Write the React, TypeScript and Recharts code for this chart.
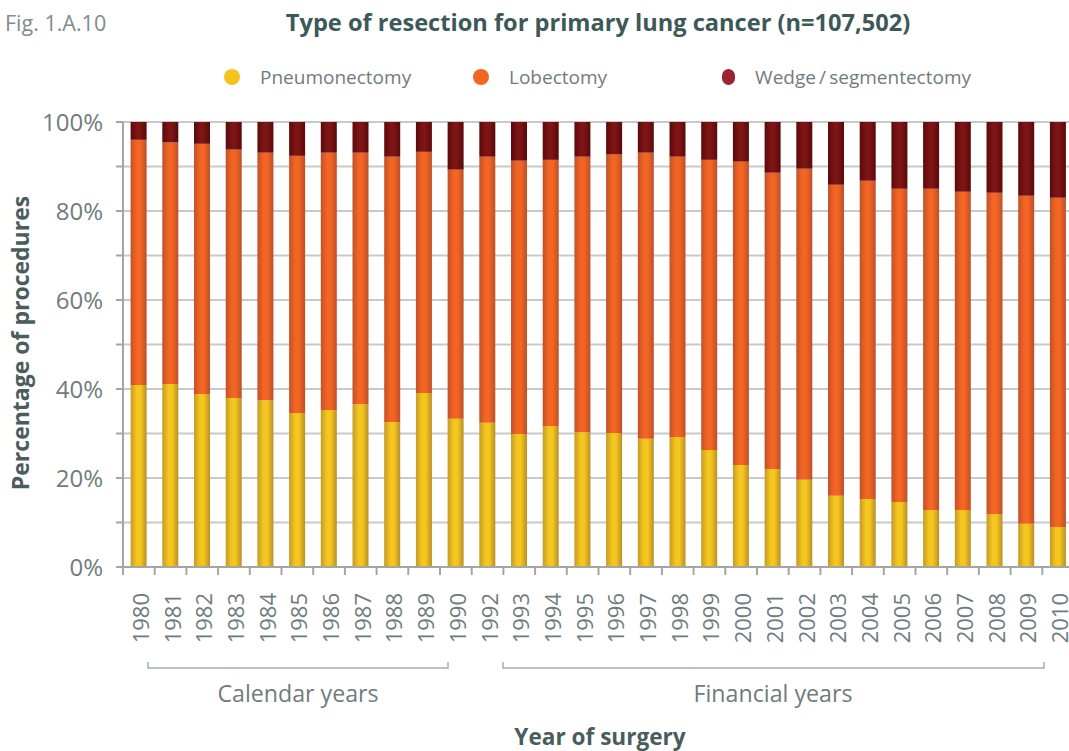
import React from 'react';
import { BarChart, Bar, XAxis, YAxis, CartesianGrid, Legend } from 'recharts';

const years = ['1980','1981','1982','1983','1984','1985','1986','1987','1988','1989','1990','1992','1993','1994','1995','1996','1997','1998','1999','2000','2001','2002','2003','2004','2005','2006','2007','2008','2009','2010'];
const pneumonectomy = [40.9,41.1,38.9,38.0,37.5,34.6,35.3,36.6,32.6,39.1,33.3,32.4,29.9,31.7,30.3,30.1,28.8,29.2,26.3,22.9,22.0,19.6,16.0,15.3,14.6,12.8,12.8,11.9,9.7,9.0];
const lobectomy = [55.1,54.3,56.2,55.8,55.6,57.8,57.8,56.5,59.6,54.2,56.0,59.8,61.4,59.8,61.9,62.6,64.3,63.0,65.2,68.2,66.6,69.9,69.9,71.5,70.4,72.2,71.5,72.2,73.7,74.0];
const wedge = [4.0,4.6,4.9,6.2,6.9,7.6,6.9,6.9,7.8,6.7,10.7,7.8,8.7,8.5,7.8,7.3,6.9,7.8,8.5,8.9,11.4,10.5,14.1,13.2,15.0,15.0,15.7,15.9,16.6,17.0];
const yTicks = [0,10,20,30,40,50,60,70,80,90,100];
const seriesNames = ['Pneumonectomy','Lobectomy','Wedge\u2009/\u2009segmentectomy'];
const legendColors = ['#f5c31c','#f26522','#9c2534'];

const data = years.map((year, i) => ({ year, pneumonectomy: pneumonectomy[i], lobectomy: lobectomy[i], wedge: wedge[i] }));

const FONT = "'Open Sans', sans-serif";
const GREY_TEXT = '#6f7c7c';
const DARK_TEXT = '#4a5c5c';
const AXIS = '#a5a5a5';

const YearTick = (props: any) => {
  const { x, y, payload } = props;
  const half = typeof payload.offset === 'number' && payload.offset > 0 ? payload.offset : 15.85;
  return (
    <g>
      <line x1={x - half} x2={x - half} y1={y} y2={y + 8} stroke={AXIS} strokeWidth={2} />
      <text x={0} y={0} transform={`translate(${x + 1},${y + 26}) rotate(-90)`} textAnchor="end" dominantBaseline="central" fontSize={22} fill={GREY_TEXT} fontFamily={FONT}>
        {payload.value}
      </text>
    </g>
  );
};

const LegendContent = () => (
  <div style={{ display: 'flex', fontFamily: FONT }}>
    {seriesNames.map((n, i) => (
      <div key={n} style={{ width: 249, display: 'flex', alignItems: 'center', height: 22 }}>
        <span style={{ display: 'inline-block', width: 16, height: 16, borderRadius: 8, background: legendColors[i], marginRight: 20 }} />
        <span style={{ fontSize: 19, color: GREY_TEXT, lineHeight: '22px', whiteSpace: 'nowrap' }}>{n}</span>
      </div>
    ))}
  </div>
);

export default function App() {
  return (
    <div style={{ position: 'absolute', left: 0, top: 0, width: 1069, height: 751, background: '#fff', overflow: 'hidden' }}>
      <BarChart width={1069} height={751} data={data} margin={{ top: 122, right: -5, bottom: 0, left: 0 }} barCategoryGap="24%">
        <defs>
          <linearGradient id="gY" x1="0" y1="0" x2="1" y2="0">
            <stop offset="0%" stopColor="#c39a28" />
            <stop offset="38%" stopColor="#f5c61d" />
            <stop offset="62%" stopColor="#f5c61d" />
            <stop offset="100%" stopColor="#b88f27" />
          </linearGradient>
          <linearGradient id="gO" x1="0" y1="0" x2="1" y2="0">
            <stop offset="0%" stopColor="#c2502a" />
            <stop offset="38%" stopColor="#f26522" />
            <stop offset="62%" stopColor="#f26522" />
            <stop offset="100%" stopColor="#bd4f2a" />
          </linearGradient>
          <linearGradient id="gR" x1="0" y1="0" x2="1" y2="0">
            <stop offset="0%" stopColor="#5c0909" />
            <stop offset="40%" stopColor="#7d1415" />
            <stop offset="60%" stopColor="#7d1415" />
            <stop offset="100%" stopColor="#5a0909" />
          </linearGradient>
        </defs>
        <CartesianGrid vertical={false} stroke="#c9c9c9" strokeWidth={2} />
        <XAxis dataKey="year" interval={0} tick={<YearTick />} tickLine={false} tickSize={0} tickMargin={0} axisLine={{ stroke: AXIS, strokeWidth: 2 }} height={184} />
        <YAxis width={123} domain={[0, 100]} ticks={yTicks} tickFormatter={(v: number) => (v % 20 === 0 ? `${v}%` : '')} tick={{ fontSize: 24, fill: GREY_TEXT, fontFamily: FONT }} tickSize={7} tickMargin={13} tickLine={{ stroke: AXIS, strokeWidth: 2 }} axisLine={{ stroke: AXIS, strokeWidth: 2 }} />
        <Legend layout="horizontal" verticalAlign="middle" align="center" wrapperStyle={{ position: 'absolute', left: 224, top: 66, width: 800 }} content={<LegendContent />} />
        <Bar dataKey="pneumonectomy" name={seriesNames[0]} stackId="a" fill="url(#gY)" isAnimationActive={false} />
        <Bar dataKey="lobectomy" name={seriesNames[1]} stackId="a" fill="url(#gO)" isAnimationActive={false} />
        <Bar dataKey="wedge" name={seriesNames[2]} stackId="a" fill="url(#gR)" isAnimationActive={false} />
      </BarChart>
      <svg width={1069} height={751} style={{ position: 'absolute', left: 0, top: 0, pointerEvents: 'none' }} fontFamily={FONT}>
        <text x={5} y={22} dominantBaseline="central" fontSize={21.5} fill="#7f8c8c">Fig. 1.A.10</text>
        <text x={598} y={22} dominantBaseline="central" textAnchor="middle" fontSize={23.6} fontWeight="bold" fill="#3d5858">Type of resection for primary lung cancer (n=107,502)</text>
        <text transform="translate(20,343) rotate(-90)" dominantBaseline="central" textAnchor="middle" fontSize={23} fontWeight="bold" fill={DARK_TEXT}>Percentage of procedures</text>
        <path d="M148,662 V668 H448 V662" fill="none" stroke="#a7afaf" strokeWidth={1.5} />
        <path d="M503,662 V668 H1044 V662" fill="none" stroke="#a7afaf" strokeWidth={1.5} />
        <text x={298} y={693} dominantBaseline="central" textAnchor="middle" fontSize={23.2} fill={GREY_TEXT}>Calendar years</text>
        <text x={773} y={693} dominantBaseline="central" textAnchor="middle" fontSize={23.2} fill={GREY_TEXT}>Financial years</text>
        <text x={600} y={736} dominantBaseline="central" textAnchor="middle" fontSize={22.6} fontWeight="bold" fill={DARK_TEXT}>Year of surgery</text>
      </svg>
    </div>
  );
}
